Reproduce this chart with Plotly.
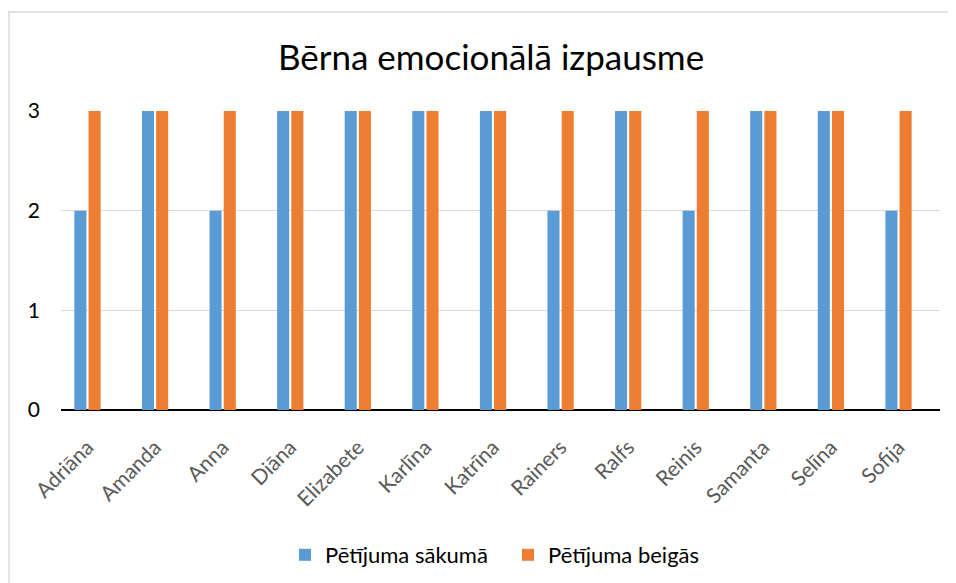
import plotly.graph_objects as go

categories = ["Adriāna", "Amanda", "Anna", "Diāna", "Elizabete", "Karlīna", "Katrīna",
              "Rainers", "Ralfs", "Reinis", "Samanta", "Selīna", "Sofija"]
sakuma = [2, 3, 2, 3, 3, 3, 3, 2, 3, 2, 3, 3, 2]
beigas = [3, 3, 3, 3, 3, 3, 3, 3, 3, 3, 3, 3, 3]
series_names = ["Pētījuma sākumā", "Pētījuma beigās"]
y_ticks = [0, 1, 2, 3]
title_text = "Bērna emocionālā izpausme"

FONT = "Lato"

fig = go.Figure()
fig.add_trace(go.Bar(x=categories, y=sakuma, name=series_names[0],
                     marker=dict(color="#5B9BD5", line=dict(width=0))))
fig.add_trace(go.Bar(x=categories, y=beigas, name=series_names[1],
                     marker=dict(color="#ED7D31", line=dict(width=0))))

fig.update_layout(
    width=956, height=583,
    margin=dict(l=53, r=24, t=103, b=181),
    paper_bgcolor="white", plot_bgcolor="white",
    barmode="group", bargap=0.58, bargroupgap=0.15,
    font=dict(family=FONT, color="#000000"),
    title=dict(text=title_text, x=483 / 956, xref="container", xanchor="center",
               y=1 - 50 / 583, yref="container", yanchor="middle",
               font=dict(size=35, family=FONT, color="#000000")),
    showlegend=True,
    legend=dict(orientation="h", xref="container", yref="container",
                x=277 / 956, xanchor="left", y=1 - 547 / 583, yanchor="middle",
                font=dict(size=22, family=FONT, color="#000000"),
                entrywidth=178, itemwidth=30, traceorder="normal"),
    shapes=[dict(type="rect", xref="paper", yref="paper",
                 x0=(1 - 53) / 879, x1=1.2, y0=-0.8, y1=(402 - 4) / 299,
                 line=dict(color="#d9d9d9", width=1.5), fillcolor="rgba(0,0,0,0)",
                 layer="below")],
)

fig.update_xaxes(type="category", range=[-0.392, 12.614], tickangle=-45,
                 tickfont=dict(size=21, family=FONT, color="#595959"),
                 showgrid=False, showline=False, ticks="", zeroline=False,
                 automargin=False, ticklabelstandoff=20)
fig.update_yaxes(range=[0, 3], tickvals=y_ticks, ticktext=[str(v) for v in y_ticks],
                 tickfont=dict(size=21, family=FONT, color="#000000"),
                 showgrid=True, gridcolor="#d9d9d9", gridwidth=1,
                 zeroline=True, zerolinecolor="#000000", zerolinewidth=1.5,
                 showline=False, ticks="", ticklabelstandoff=20, automargin=False)

fig.write_html("out.html")
